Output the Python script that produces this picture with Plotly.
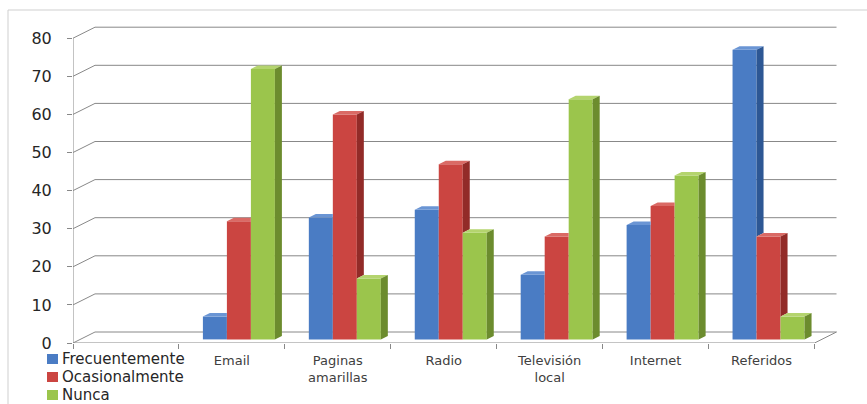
import plotly.graph_objects as go

# How often each advertising channel is used
categories = ["Email", "Paginas amarillas", "Radio", "Televisión local", "Internet", "Referidos"]
tick_labels = ["Email", "Paginas<br>amarillas", "Radio", "Televisión<br>local", "Internet", "Referidos"]
series_names = ["Frecuentemente", "Ocasionalmente", "Nunca"]
frecuentemente = [6, 32, 34, 17, 30, 76]
ocasionalmente = [31, 59, 46, 27, 35, 27]
nunca = [71, 16, 28, 63, 43, 6]
y_ticks = [0, 10, 20, 30, 40, 50, 60, 70, 80]

series_values = [frecuentemente, ocasionalmente, nunca]

# Face colours of the 3-D columns: front, right side, top
front_colors = ["#4A7CC4", "#CB4541", "#9BC54C"]
side_colors = ["#2D5794", "#922B28", "#6C8C2E"]
top_colors = ["#6A95D4", "#DA6A65", "#B4D46E"]
line_color = "#888888"

# Figure geometry (pixels)
FIG_W, FIG_H = 867, 404
M_L, M_R, M_T, M_B = 73, 26, 19, 61
PLOT_W = FIG_W - M_L - M_R
PLOT_H = FIG_H - M_T - M_B
X_MIN, X_MAX = -0.5, 6.75
UX = PLOT_W / (X_MAX - X_MIN)      # pixels per category
UY = 3.81                           # pixels per value unit
Y_MAX = PLOT_H / UY

# Perspective offsets (converted from pixels to axis units)
BACK_DX, BACK_DY = 22 / UX, 11 / UY     # back wall
BAR_W = 24 / UX                         # column width
BAR_SHIFT = 7 / UX                      # columns sit part way into the depth
BAR_BASE = 3.6 / UY
BAR_DX, BAR_DY = 7 / UX, 3.5 / UY       # column depth

# first category slot is left empty (the legend sits there)
x_pos = [i + 1 for i in range(len(categories))]
n_slots = len(categories) + 1
x_left, x_right = -0.5, n_slots - 0.5


def px_to_paper_x(px):
    return (px - M_L) / PLOT_W


def px_to_paper_y(py):
    return (FIG_H - M_B - py) / PLOT_H


shapes = []


def line(x0, y0, x1, y1, color=line_color, width=1, layer="below"):
    shapes.append(dict(type="line", xref="x", yref="y", x0=x0, y0=y0, x1=x1, y1=y1,
                       line=dict(color=color, width=width), layer=layer))


def poly(points, color):
    path = "M" + " L".join(f"{x:.5f},{y:.5f}" for x, y in points) + " Z"
    shapes.append(dict(type="path", xref="x", yref="y", path=path,
                       fillcolor=color, line=dict(width=0), layer="above"))


# back wall gridlines and left wall diagonals
for v in y_ticks:
    line(x_left + BACK_DX, v + BACK_DY, x_right + BACK_DX, v + BACK_DY)
    line(x_left, v, x_left + BACK_DX, v + BACK_DY)
# floor edges and the front axes
line(x_left, 0, x_right, 0)
line(x_right, 0, x_right + BACK_DX, BACK_DY)
line(x_left, 0, x_left, y_ticks[-1])

# bars: front faces as bar traces, tops and sides as shapes
fig = go.Figure()
for s, (name, vals) in enumerate(zip(series_names, series_values)):
    offset = BAR_SHIFT + (s - 1.5) * BAR_W
    fig.add_trace(go.Bar(
        name=name, x=x_pos, y=vals, base=BAR_BASE, offset=offset, width=BAR_W,
        marker=dict(color=front_colors[s], line=dict(width=0)), showlegend=False,
    ))

for c, xc in enumerate(x_pos):
    for s in range(len(series_values)):
        v = series_values[s][c]
        xl = xc + BAR_SHIFT + (s - 1.5) * BAR_W
        xr = xl + BAR_W
        top = BAR_BASE + v
        last = s == len(series_values) - 1
        nxt = None if last else BAR_BASE + series_values[s + 1][c]
        # top face
        if nxt is not None and nxt > top:
            poly([(xl, top), (xr, top), (xr, top + BAR_DY), (xl + BAR_DX, top + BAR_DY)], top_colors[s])
        else:
            poly([(xl, top), (xr, top), (xr + BAR_DX, top + BAR_DY), (xl + BAR_DX, top + BAR_DY)], top_colors[s])
        # right side face (only the part not hidden by the neighbour)
        if last:
            poly([(xr, BAR_BASE), (xr + BAR_DX, BAR_BASE + BAR_DY), (xr + BAR_DX, top + BAR_DY), (xr, top)], side_colors[s])
        elif nxt < top:
            poly([(xr, nxt), (xr + BAR_DX, nxt + BAR_DY), (xr + BAR_DX, top + BAR_DY), (xr, top)], side_colors[s])

# chart frame
shapes.append(dict(type="rect", xref="paper", yref="paper",
                   x0=px_to_paper_x(8), x1=px_to_paper_x(900),
                   y0=px_to_paper_y(430), y1=px_to_paper_y(10),
                   line=dict(color="#CFCFCF", width=1), layer="below"))

# legend
annotations = []
legend_y = [359, 377, 395]
for s, name in enumerate(series_names):
    yc = legend_y[s]
    shapes.append(dict(type="rect", xref="paper", yref="paper",
                       x0=px_to_paper_x(47), x1=px_to_paper_x(58),
                       y0=px_to_paper_y(yc + 5), y1=px_to_paper_y(yc - 5),
                       fillcolor=front_colors[s], line=dict(width=0)))
    annotations.append(dict(xref="paper", yref="paper", x=px_to_paper_x(60), y=px_to_paper_y(yc),
                            xanchor="left", yanchor="middle", text=name, showarrow=False,
                            font=dict(family="DejaVu Sans", size=15, color="#262626")))

fig.update_layout(
    width=FIG_W, height=FIG_H,
    margin=dict(l=M_L, r=M_R, t=M_T, b=M_B, pad=0),
    paper_bgcolor="white", plot_bgcolor="white",
    barmode="overlay", showlegend=False,
    shapes=shapes, annotations=annotations,
    xaxis=dict(
        range=[X_MIN, X_MAX], tickvals=x_pos, ticktext=tick_labels, ticks="",
        showgrid=False, zeroline=False, showline=False,
        tickfont=dict(family="DejaVu Sans", size=13, color="#404040"),
        ticklabelstandoff=8,
        minor=dict(tickvals=[k - 0.5 for k in range(n_slots + 1)], ticks="outside",
                   ticklen=5, tickcolor=line_color, showgrid=False),
    ),
    yaxis=dict(
        range=[0, Y_MAX], tickvals=y_ticks, ticks="outside", ticklen=5, tickcolor=line_color,
        showgrid=False, zeroline=False, showline=False,
        tickfont=dict(family="DejaVu Sans", size=16, color="#262626"),
        ticklabelstandoff=12,
    ),
)

fig.write_html("out.html")
